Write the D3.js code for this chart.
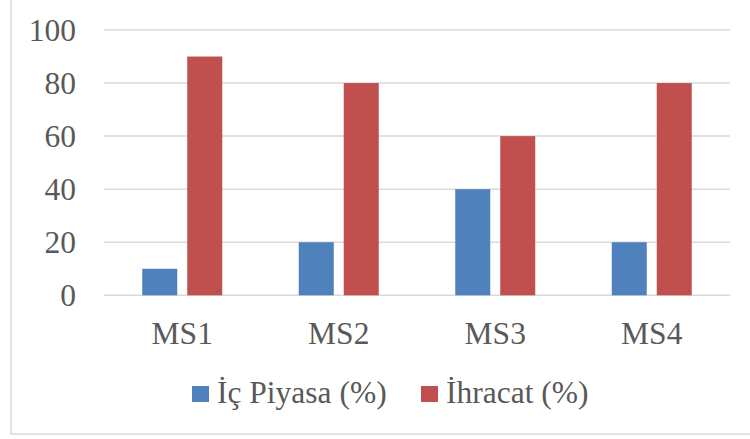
<!DOCTYPE html>
<html><head><meta charset="utf-8">
<script src="https://cdn.jsdelivr.net/npm/d3@7"></script>
<style>html,body{margin:0;padding:0;background:#fff;}svg{display:block;}</style>
</head><body>
<svg id="c" width="750" height="439"></svg>
<script>
const categories = ["MS1","MS2","MS3","MS4"];
const seriesNames = ["İç Piyasa (%)","İhracat (%)"];
const icPiyasa = [10,20,40,20];
const ihracat = [90,80,60,80];
const yTicks = [0,20,40,60,80,100];
const colors = ["#4F81BD","#C0504D"];

(function(){
const svg = d3.select("#c");
const font = "'Liberation Serif','Times New Roman',serif";
const fs = 31.5;
svg.append("rect").attr("x",11).attr("y",-5).attr("width",760).attr("height",439)
  .attr("fill","#fff").attr("stroke","#d9d9d9").attr("stroke-width",1.5);

const pL=104,pR=730,pT=30,pB=295.3;
const x0 = d3.scaleBand().domain(categories).range([pL,pR]).padding(0);
const x1 = d3.scaleBand().domain(seriesNames).range([-40,40]).paddingInner(0.222).paddingOuter(0);
const y = d3.scaleLinear().domain([0,100]).range([pB,pT]);

svg.append("g").selectAll("line").data(yTicks).join("line")
  .attr("x1",pL).attr("x2",pR).attr("y1",d=>y(d)).attr("y2",d=>y(d))
  .attr("stroke","#d9d9d9").attr("stroke-width",1.5);

svg.append("g").selectAll("text").data(yTicks).join("text")
  .attr("x",76).attr("y",d=>y(d)).attr("dy","0.35em").attr("text-anchor","end")
  .attr("font-family",font).attr("font-size",fs).attr("fill","#595959").text(d=>d);

const data = categories.map((c,i)=>({c, vals:[icPiyasa[i], ihracat[i]]}));
const g = svg.append("g");
data.forEach(d=>{
  d.vals.forEach((v,j)=>{
    const cx = x0(d.c)+x0.bandwidth()/2;
    g.append("rect").attr("x",cx+x1(seriesNames[j])).attr("width",x1.bandwidth())
      .attr("y",y(v)).attr("height",y(0)-y(v)).attr("fill",colors[j]);
  });
});

svg.append("g").selectAll("text").data(categories).join("text")
  .attr("x",d=>x0(d)+x0.bandwidth()/2).attr("y",344).attr("text-anchor","middle")
  .attr("font-family",font).attr("font-size",fs).attr("fill","#595959").text(d=>d);

const legX=[192,421];
const leg = svg.append("g");
seriesNames.forEach((s,j)=>{
  leg.append("rect").attr("x",legX[j]).attr("y",386).attr("width",17).attr("height",16).attr("fill",colors[j]);
  leg.append("text").attr("x",legX[j]+25).attr("y",403).attr("font-family",font)
    .attr("font-size",fs).attr("fill","#595959").text(s);
});
})();
</script>
</body></html>
